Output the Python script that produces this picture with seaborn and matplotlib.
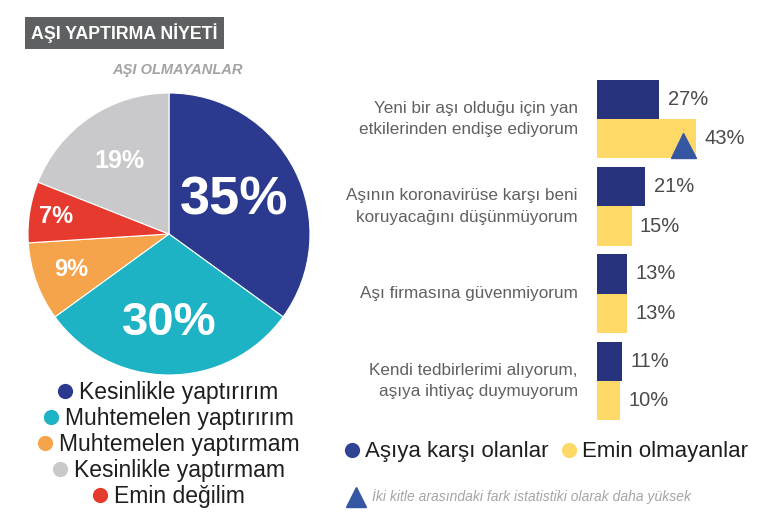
import numpy as np
import pandas as pd
import matplotlib
matplotlib.use("Agg")
import matplotlib.pyplot as plt
import matplotlib.transforms as mtransforms
import seaborn as sns

sns.set_style("white")
plt.rcParams["font.family"] = ["Liberation Sans", "DejaVu Sans"]

# ---------------------------------------------------------------
# data
# ---------------------------------------------------------------
pie_labels = ["Kesinlikle yaptırırım", "Muhtemelen yaptırırım", "Muhtemelen yaptırmam",
              "Kesinlikle yaptırmam", "Emin değilim"]
# drawing order on the pie (clockwise from top)
pie_order = ["Kesinlikle yaptırırım", "Muhtemelen yaptırırım", "Muhtemelen yaptırmam",
             "Emin değilim", "Kesinlikle yaptırmam"]
pie_values = [35, 30, 9, 7, 19]

reasons = ["Yeni bir aşı olduğu için yan\netkilerinden endişe ediyorum",
           "Aşının koronavirüse karşı beni\nkoruyacağını düşünmüyorum",
           "Aşı firmasına güvenmiyorum",
           "Kendi tedbirlerimi alıyorum,\naşıya ihtiyaç duymuyorum"]
against = [27, 21, 13, 11]
unsure = [43, 15, 13, 10]
groups = ["Aşıya karşı olanlar", "Emin olmayanlar"]
significant = [(0, 1)]  # (reason index, group index) marked with triangle

pie_colors = {"Kesinlikle yaptırırım": "#2B3A8E", "Muhtemelen yaptırırım": "#1DB3C5",
              "Muhtemelen yaptırmam": "#F5A44B", "Kesinlikle yaptırmam": "#C9C9CB",
              "Emin değilim": "#E63A2F"}
bar_colors = {"Aşıya karşı olanlar": "#26327B", "Emin olmayanlar": "#FFD968"}
legend_dot = {"Aşıya karşı olanlar": "#2F4493", "Emin olmayanlar": "#FFD968"}
tri_color = "#3556A3"

W, H = 770, 515
fig = plt.figure(figsize=(W / 100, H / 100), dpi=100)
fig.patch.set_facecolor("white")

def px(l, t, w, h):
    return [l / W, 1 - (t + h) / H, w / W, h / H]

# ---------------------------------------------------------------
# pie
# ---------------------------------------------------------------
ax_pie = fig.add_axes(px(28, 93, 282, 282))
wedges, _ = ax_pie.pie(pie_values, colors=[pie_colors[k] for k in pie_order],
                       startangle=90, counterclock=False,
                       wedgeprops=dict(edgecolor="white", linewidth=0.8))
ax_pie.set_xlim(-1, 1)
ax_pie.set_ylim(-1, 1)
dist = [0.52, 0.63, 0.74, 0.81, 0.63]
sizes = [39, 34, 17, 17, 18]
for w, v, d, s in zip(wedges, pie_values, dist, sizes):
    ang = np.deg2rad((w.theta1 + w.theta2) / 2)
    ax_pie.text(d * np.cos(ang), d * np.sin(ang), f"{v}%", color="white",
                fontsize=s, fontweight="bold", ha="center", va="center")

# ---------------------------------------------------------------
# bars
# ---------------------------------------------------------------
df = pd.DataFrame({
    "reason": reasons * 2,
    "value": against + unsure,
    "group": [groups[0]] * len(reasons) + [groups[1]] * len(reasons),
})
ax_bar = fig.add_axes(px(597, 75.5, 173, 349))
sns.barplot(data=df, y="reason", x="value", hue="group", order=reasons,
            hue_order=groups, palette=bar_colors, width=0.9, orient="y",
            legend=False, ax=ax_bar, saturation=1, linewidth=0)
ax_bar.set_xlim(0, 75)
ax_bar.set_ylim(len(reasons) - 0.5, -0.5)
ax_bar.set_axis_off()
for cont in ax_bar.containers:
    ax_bar.bar_label(cont, labels=[f"{int(p.get_width())}%" for p in cont],
                     padding=6, fontsize=14.5, color="#4A4A4A")
ytr = mtransforms.blended_transform_factory(ax_bar.transAxes, ax_bar.transData)
for i, r in enumerate(reasons):
    ax_bar.text(-0.11, i, r, transform=ytr, ha="right", va="center",
                fontsize=12.3, color="#606060", linespacing=1.55)
for ri, gi in significant:
    p = ax_bar.containers[gi][ri]
    tr = mtransforms.offset_copy(ax_bar.transData, fig=fig, x=-9.5, y=-4.5, units="points")
    ax_bar.plot(p.get_x() + p.get_width(), p.get_y() + p.get_height() / 2, marker="^",
                ms=18, color=tri_color, transform=tr, clip_on=False)

# ---------------------------------------------------------------
# titles, legends, notes (pixel overlay)
# ---------------------------------------------------------------
ov = fig.add_axes([0, 0, 1, 1], facecolor="none")
ov.set_xlim(0, W)
ov.set_ylim(H, 0)
ov.set_axis_off()

ov.text(31, 33, "AŞI YAPTIRMA NİYETİ", color="white", fontsize=12.8, fontweight="bold",
        ha="left", va="center",
        bbox=dict(boxstyle="square,pad=0.35", facecolor="#5E6062", edgecolor="none"))
ov.text(178, 70, "AŞI OLMAYANLAR", color="#A3A3A3", fontsize=10.5, fontweight="bold",
        style="italic", ha="center", va="center")

fig.canvas.draw()
inv = ov.transData.inverted()
rend = fig.canvas.get_renderer()
rows_y = [393, 419, 445, 471, 497]
for lab, y in zip(pie_labels, rows_y):
    t = ov.text(169 + 10, y, lab, ha="center", va="center", fontsize=16.5, color="#1E1E1E")
    left = inv.transform((t.get_window_extent(rend).x0, 0))[0]
    ov.scatter([left - 14], [y - 2], s=120, color=pie_colors[lab], zorder=3, linewidths=0)

for g, x in zip(groups, [365, 582]):
    ov.text(x, 452, g, ha="left", va="center", fontsize=16, color="#1E1E1E")
    ov.scatter([x - 13], [450], s=120, color=legend_dot[g], zorder=3, linewidths=0)

ov.plot([356], [497], marker="^", ms=15, color=tri_color)
ov.text(372, 497, "İki kitle arasındaki fark istatistiki olarak daha yüksek", ha="left",
        va="center", fontsize=10, style="italic", color="#A5A5A5")

fig.savefig("out.png", dpi=100)
